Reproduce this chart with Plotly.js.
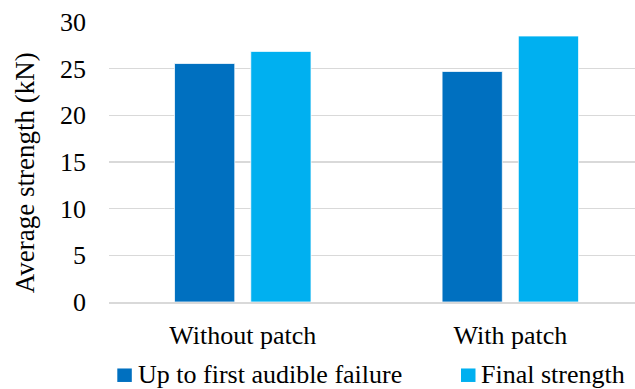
<!DOCTYPE html>
<html>
<head>
<meta charset="utf-8">
<script src="https://cdn.plot.ly/plotly-3.0.1.min.js"></script>
<style>html,body{margin:0;padding:0;background:#fff;}#chart{width:635px;height:389px;}</style>
</head>
<body>
<div id="chart"></div>
<script>
const categories = ["Without patch", "With patch"];
const seriesNames = ["Up to first audible failure", "Final strength"];
const seriesColors = ["#0070C0", "#00B0F0"];
const firstFailure = [25.55, 24.7];
const finalStrength = [26.85, 28.5];
const yTicks = [0, 5, 10, 15, 20, 25, 30];
const yTitle = "Average strength (kN)";

const font = "Liberation Serif";
const fs = 26;
const W = 635, H = 389;
const M = {l: 109, r: 0, t: 21.7, b: 87.2};
const pw = W - M.l - M.r, ph = H - M.t - M.b;
const px = x => (x - M.l) / pw;           // pixel -> paper x
const py = y => (H - M.b - y) / ph;       // pixel -> paper y

const traces = [
  {type: "bar", name: seriesNames[0], x: categories, y: firstFailure,
   marker: {color: seriesColors[0], line: {color: "#FFFFFF", width: 0.75}}},
  {type: "bar", name: seriesNames[1], x: categories, y: finalStrength,
   marker: {color: seriesColors[1], line: {color: "#FFFFFF", width: 0.75}}}
];

// manual legend (Excel-style: small square, tight gap)
const legendSquareX = [117.3, 461];
const legendTextX = [135.5, 478.8];
const shapes = seriesNames.map((n, i) => ({
  type: "rect", xref: "paper", yref: "paper",
  x0: px(legendSquareX[i]), x1: px(legendSquareX[i] + 14.5),
  y0: py(368.3), y1: py(381.8),
  fillcolor: seriesColors[i], line: {width: 0}
}));
const legendAnn = seriesNames.map((n, i) => ({
  text: n, showarrow: false, xref: "paper", yref: "paper",
  x: px(legendTextX[i]), y: py(374.5), xanchor: "left", yanchor: "middle",
  font: {family: font, size: fs, color: "#000"}
}));

const layout = {
  width: W, height: H,
  margin: {l: M.l, r: M.r, t: M.t, b: M.b, autoexpand: false},
  paper_bgcolor: "#fff", plot_bgcolor: "#fff",
  font: {family: font, size: fs, color: "#000"},
  barmode: "group",
  bargap: 0.43,
  bargroupgap: 0.21,
  showlegend: false,
  xaxis: {
    range: [-0.5, 1.466],
    showgrid: false, showline: true, linecolor: "#D9D9D9", linewidth: 1.5,
    ticks: "", tickfont: {family: font, size: fs, color: "#000"},
    ticklabelstandoff: 9, automargin: false
  },
  yaxis: {
    range: [0, 30], tickvals: yTicks, ticktext: yTicks.map(String),
    showgrid: true, gridcolor: "#D9D9D9", gridwidth: 1.3,
    zeroline: false, showline: false, ticks: "",
    tickfont: {family: font, size: fs, color: "#000"},
    ticklabelstandoff: 22, automargin: false
  },
  shapes: shapes,
  annotations: [{
    text: yTitle, textangle: -90, showarrow: false,
    xref: "paper", yref: "paper", x: px(25), y: py(173),
    xanchor: "center", yanchor: "middle",
    font: {family: font, size: 27, color: "#000"}
  }].concat(legendAnn)
};

Plotly.newPlot("chart", traces, layout, {displayModeBar: false, staticPlot: true});
</script>
</body>
</html>
